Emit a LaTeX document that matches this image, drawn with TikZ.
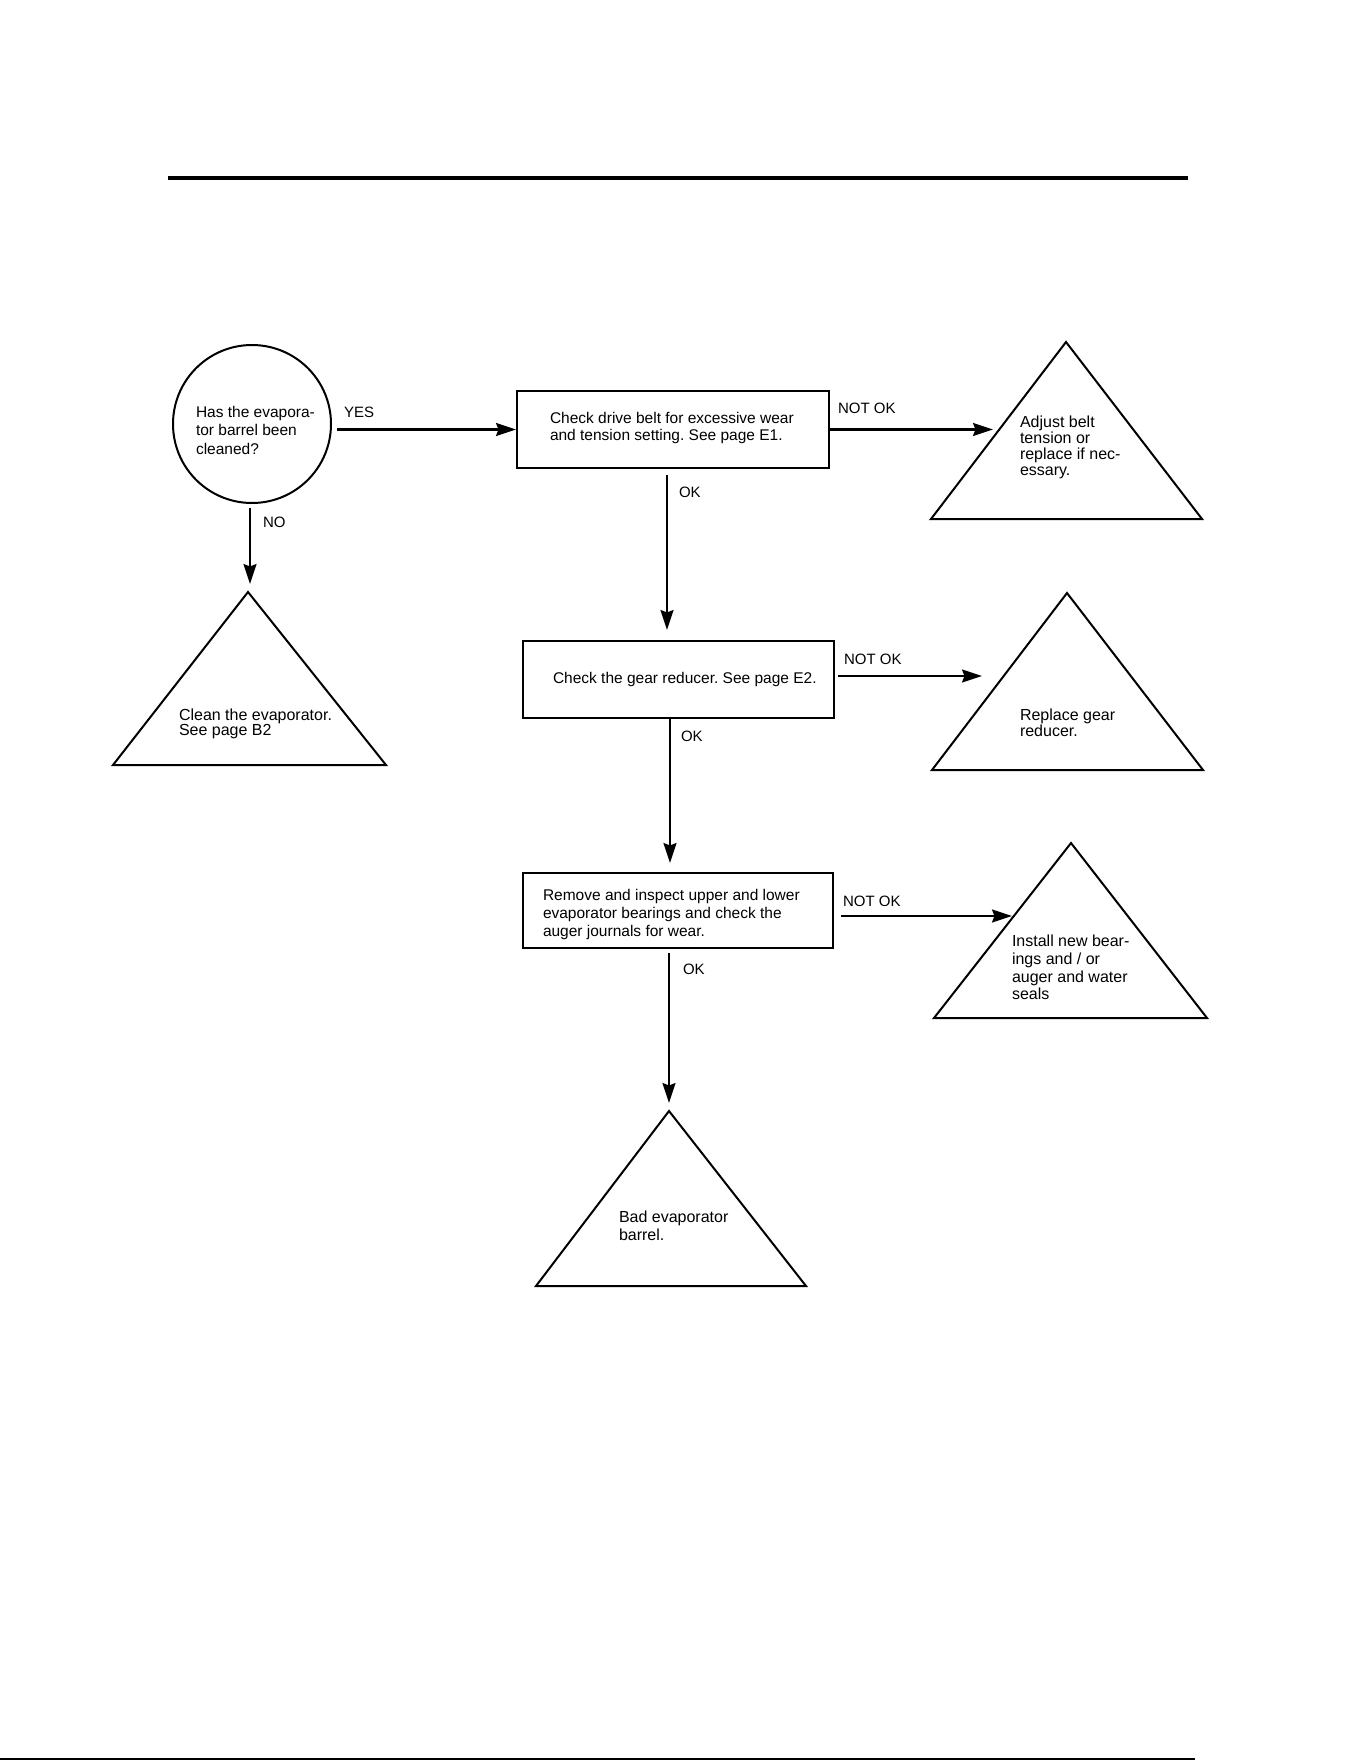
\documentclass[tikz,border=0pt]{standalone}
\usepackage{fontspec}
\setmainfont{Liberation Sans}
\usetikzlibrary{arrows.meta}
\newcommand\fsz[2]{\fontsize{#1}{#2}\selectfont}
\frenchspacing
\begin{document}
\begin{tikzpicture}[x=1pt,y=-1pt,
  line width=2pt,
  txt/.style={anchor=north west, align=left, inner sep=0pt},
  lbl/.style={anchor=north west, inner sep=0pt, font=\fsz{15}{18}},
  boxnode/.style={draw, rectangle, inner sep=0pt, line width=2pt},
  arr/.style={line width=2.2pt, -{Stealth[length=20pt,width=13pt,inset=2.5pt]}},
  tri/.style={line width=2pt, line join=miter}]
\useasboundingbox (0,0) rectangle (1361,1761);
\fill[white] (0,0) rectangle (1361,1761);

% rules
\coordinate (r1a) at (168,178); \coordinate (r1b) at (1188,178);
\draw[line width=3.3pt] (r1a) -- (r1b);
\coordinate (r2a) at (0,1759); \coordinate (r2b) at (1195,1759);
\draw[line width=2.5pt] (r2a) -- (r2b);

% question circle
\node[draw, circle, minimum size=158pt, inner sep=0pt, line width=2pt] (q) at (252,424) {};
\node[txt, font=\fsz{15.5}{18.5}] (qt) at (195,405) {Has the evapora-\\tor barrel been\\cleaned?};

% boxes
\node[boxnode, minimum width=312pt, minimum height=77pt] (b1) at (673,429.5) {};
\node[txt, font=\fsz{15.5}{17.3}] (b1t) at (549,411) {Check drive belt for excessive wear\\and tension setting. See page E1.};
\node[boxnode, minimum width=311pt, minimum height=77pt] (b2) at (678.5,679.5) {};
\node[txt, font=\fsz{15.5}{18}] (b2t) at (552,671) {Check the gear reducer. See page E2.};
\node[boxnode, minimum width=310pt, minimum height=75pt] (b3) at (678,910.5) {};
\node[txt, font=\fsz{15.5}{18.3}] (b3t) at (542,888) {Remove and inspect upper and lower\\evaporator bearings and check the\\auger journals for wear.};

% triangles
\coordinate (t0a) at (248,592); \coordinate (t0l) at (113,765); \coordinate (t0r) at (386,765);
\draw[tri] (t0a) -- (t0l) -- (t0r) -- cycle;
\node[txt, font=\fsz{16}{15}] (t0t) at (178,708) {Clean the evaporator.\\See page B2};

\coordinate (t1a) at (1066,342); \coordinate (t1l) at (931,519); \coordinate (t1r) at (1202,519);
\draw[tri] (t1a) -- (t1l) -- (t1r) -- cycle;
\node[txt, font=\fsz{16}{16}] (t1t) at (1019,415) {Adjust belt\\tension or\\replace if nec-\\essary.};

\coordinate (t2a) at (1067,593); \coordinate (t2l) at (932,770); \coordinate (t2r) at (1203,770);
\draw[tri] (t2a) -- (t2l) -- (t2r) -- cycle;
\node[txt, font=\fsz{16}{15.5}] (t2t) at (1019,708) {Replace gear\\reducer.};

\coordinate (t3a) at (1071,843); \coordinate (t3l) at (934,1018); \coordinate (t3r) at (1207,1018);
\draw[tri] (t3a) -- (t3l) -- (t3r) -- cycle;
\node[txt, font=\fsz{16}{17.7}] (t3t) at (1011,934) {Install new bear-\\ings and / or\\auger and water\\seals};

\coordinate (t4a) at (669,1111); \coordinate (t4l) at (536,1286); \coordinate (t4r) at (806,1286);
\draw[tri] (t4a) -- (t4l) -- (t4r) -- cycle;
\node[txt, font=\fsz{16}{18.3}] (t4t) at (618,1210) {Bad evaporator\\barrel.};

% arrow targets
\coordinate (t1p) at (993,429.5);
\coordinate (t2p) at (982,676);
\coordinate (t3p) at (1012,916);

% connectors
\draw[arr, shorten <=5pt] (q.east |- b1.west) -- (b1.west);
\draw[arr, shorten <=4pt, shorten >=8pt] ([xshift=-2pt]q.south) -- ([xshift=-2pt]q.south |- t0a);
\draw[arr] (b1.east |- t1p) -- (t1p);
\draw[arr, shorten <=3pt] (b2.east |- t2p) -- (t2p);
\draw[arr, shorten <=7pt] (b3.east |- t3p) -- (t3p);
\draw[arr, shorten <=6pt, shorten >=10pt] ([xshift=-6pt]b1.south) -- ([xshift=-6pt]b1.south |- b2.north);
\draw[arr, shorten >=9pt] ([xshift=-8.5pt]b2.south) -- ([xshift=-8.5pt]b2.south |- b3.north);
\draw[arr, shorten <=4pt, shorten >=8pt] ([xshift=-9pt]b3.south) -- ([xshift=-9pt]b3.south |- t4a);

% labels
\node[lbl] (lyes) at (343,406) {YES};
\node[lbl] (lno) at (262,516) {NO};
\node[lbl] (lnok1) at (837,402) {NOT OK};
\node[lbl] (lok1) at (678,486) {OK};
\node[lbl] (lnok2) at (843,653) {NOT OK};
\node[lbl] (lok2) at (680,730) {OK};
\node[lbl] (lnok3) at (842,895) {NOT OK};
\node[lbl] (lok3) at (682,963) {OK};
\end{tikzpicture}
\end{document}
